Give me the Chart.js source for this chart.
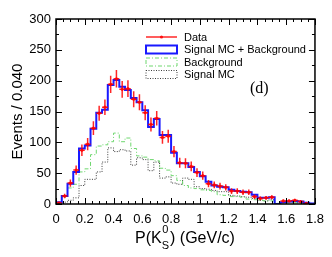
<!DOCTYPE html>
<html lang="en">
<head>
  <meta charset="UTF-8">
  <title>P(K0S) distribution</title>
  <script src="https://cdn.jsdelivr.net/npm/chart.js"></script>
  <style>
    body { margin: 0; background: #fff; }
    #wrap { width: 332px; height: 257px; }
  </style>
</head>
<body>
<div id="wrap"><canvas id="plot" width="332" height="257"></canvas></div>
<script>
// bin width 0.040 GeV/c, 45 bins from 0 to 1.8
const binWidth = 0.04;
const nBins = 45;
const dataCounts = [2, 13, 34, 55, 87, 97, 123, 147, 157, 194, 203, 186, 187, 170, 165, 148, 129, 139, 108, 110,
  85, 67, 66, 61, 51, 46, 33, 31, 29, 27, 21, 21, 19, 19, 12, 9, 10, 11, 0, 5, 5, 6, 4, 1, 0];
const totalMC = [3, 13, 33, 52, 90, 95, 122, 148, 153, 193, 201, 190, 185, 172, 165, 152, 125, 138, 112, 112,
  83, 66, 66, 60, 52, 45, 36, 30, 28, 27, 23, 21, 20, 19, 15, 10, 10, 11, 0, 3, 4, 5, 4, 2, 1];
const background = [1, 11, 26, 32, 52, 57, 80, 94, 96, 101, 115, 101, 107, 90, 78, 76, 72, 70, 58, 55,
  46, 38, 30, 26, 25, 23, 22, 20, 15, 14, 12, 12, 11, 8, 7, 6, 5, 5, 1, 2, 2, 2, 1, 1, 0];
const signalMC = [1, 3, 6, 10, 30, 40, 40, 52, 68, 91, 85, 88, 86, 63, 75, 72, 54, 68, 42, 44,
  34, 32, 42, 40, 28, 25, 24, 22, 20, 20, 14, 13, 12, 11, 9, 6, 5, 7, 0, 2, 3, 3, 3, 1, 1];
const seriesLabels = ["Data", "Signal MC + Background", "Background", "Signal MC"];
const xMin = 0, xMax = 1.8, yMin = 0, yMax = 300;

function stepPoints(vals) {
  const pts = vals.map((v, i) => ({ x: +(i * binWidth).toFixed(3), y: v }));
  pts.push({ x: xMax, y: vals[vals.length - 1] });
  return pts;
}

const dataPoints = dataCounts.map((v, i) => ({ x: +((i + 0.5) * binWidth).toFixed(3), y: v }))
  .filter(p => p.y > 0);

const RED = "rgba(255,0,0,0.85)";
const BLUE = "rgb(25,25,255)";
const GREEN = "rgb(110,215,110)";
const GREY = "rgb(60,60,60)";
const SANS = "'Liberation Sans', Arial, sans-serif";

const frameAndExtras = {
  id: "frameAndExtras",
  afterDatasetsDraw(chart) {
    // error bars for data
    const ctx = chart.ctx, xs = chart.scales.x, ys = chart.scales.y;
    ctx.save();
    ctx.strokeStyle = RED;
    ctx.lineWidth = 1.5;
    dataCounts.forEach((n, i) => {
      if (n <= 0) return;
      const err = Math.sqrt(n);
      const xc = xs.getPixelForValue((i + 0.5) * binWidth);
      const yc = ys.getPixelForValue(n);
      ctx.beginPath();
      ctx.moveTo(xs.getPixelForValue(i * binWidth), yc);
      ctx.lineTo(xs.getPixelForValue((i + 1) * binWidth), yc);
      ctx.moveTo(xc, ys.getPixelForValue(n - err));
      ctx.lineTo(xc, ys.getPixelForValue(n + err));
      ctx.stroke();
    });
    ctx.restore();
  },
  afterDraw(chart) {
    const ctx = chart.ctx, a = chart.chartArea;
    const xs = chart.scales.x, ys = chart.scales.y;
    ctx.save();
    // frame
    ctx.strokeStyle = "#000";
    ctx.lineWidth = 1.5;
    ctx.strokeRect(a.left, a.top, a.right - a.left, a.bottom - a.top);
    // inward ticks on all four sides
    ctx.lineWidth = 1;
    ctx.beginPath();
    for (let k = 0; k <= 36; k++) {
      const v = k * 0.05;
      const px = Math.round(xs.getPixelForValue(v)) + 0.5;
      const len = k % 4 === 0 ? 6 : 3;
      ctx.moveTo(px, a.bottom); ctx.lineTo(px, a.bottom - len);
      ctx.moveTo(px, a.top); ctx.lineTo(px, a.top + len);
    }
    for (let k = 0; k <= 12; k++) {
      const v = k * 25;
      const py = Math.round(ys.getPixelForValue(v)) + 0.5;
      const len = k % 2 === 0 ? 6 : 3;
      ctx.moveTo(a.left, py); ctx.lineTo(a.left + len, py);
      ctx.moveTo(a.right, py); ctx.lineTo(a.right - len, py);
    }
    ctx.stroke();

    // legend
    const lx0 = 146, lx1 = 177, tx = 184;
    const rows = [37, 49.5, 62, 74.5];
    ctx.font = "11px " + SANS;
    ctx.fillStyle = "#000";
    ctx.textBaseline = "middle";
    ctx.textAlign = "left";
    seriesLabels.forEach((lab, i) => {
      const y = rows[i];
      if (i === 0) {
        ctx.strokeStyle = RED; ctx.lineWidth = 1.5; ctx.setLineDash([]);
        ctx.beginPath(); ctx.moveTo(lx0, y); ctx.lineTo(lx1, y); ctx.stroke();
        ctx.fillStyle = RED;
        ctx.beginPath(); ctx.arc((lx0 + lx1) / 2, y, 1.6, 0, Math.PI * 2); ctx.fill();
      } else {
        const ds = chart.data.datasets[i];
        ctx.strokeStyle = ds.borderColor;
        ctx.lineWidth = ds.borderWidth;
        ctx.setLineDash(ds.borderDash || []);
        ctx.strokeRect(lx0, y - 4, lx1 - lx0, 8);
      }
      ctx.setLineDash([]);
      ctx.fillStyle = "#000";
      ctx.fillText(lab, tx, y + 0.5);
    });

    // panel label
    ctx.font = "16px 'Liberation Serif', 'Times New Roman', serif";
    ctx.fillText("(d)", 250, 89);

    // x-axis title with sub/superscript
    const big = "16px " + SANS, small = "11px " + SANS;
    ctx.font = big;
    const p1 = "P(K", p2 = ") (GeV/c)";
    const w1 = ctx.measureText(p1).width, w3 = ctx.measureText(p2).width;
    ctx.font = small;
    const w2 = Math.max(ctx.measureText("0").width, ctx.measureText("S").width) + 1;
    const total = w1 + w2 + w3;
    let x = 185 - total / 2;
    const base = 243;
    ctx.textBaseline = "alphabetic";
    ctx.font = big; ctx.fillText(p1, x, base); x += w1;
    ctx.font = small; ctx.fillText("0", x + 0.5, base - 10); ctx.fillText("S", x, base + 6); x += w2;
    ctx.font = big; ctx.fillText(p2, x, base);
    ctx.restore();
  }
};

new Chart(document.getElementById("plot"), {
  type: "scatter",
  data: {
    datasets: [
      { label: seriesLabels[0], data: dataPoints, showLine: false, pointRadius: 1.6,
        pointBackgroundColor: RED, pointBorderWidth: 0, order: 0 },
      { label: seriesLabels[1], data: stepPoints(totalMC), showLine: true, stepped: true, pointRadius: 0,
        borderColor: BLUE, borderWidth: 2, order: 1 },
      { label: seriesLabels[2], data: stepPoints(background), showLine: true, stepped: true, pointRadius: 0,
        borderColor: GREEN, borderWidth: 1, borderDash: [4, 2, 1, 2], order: 2 },
      { label: seriesLabels[3], data: stepPoints(signalMC), showLine: true, stepped: true, pointRadius: 0,
        borderColor: GREY, borderWidth: 1, borderDash: [1, 1.5], order: 3 }
    ]
  },
  options: {
    responsive: false,
    animation: false,
    devicePixelRatio: 1,
    layout: { padding: { top: 19, right: 17, left: 0, bottom: 0 } },
    plugins: { legend: { display: false }, tooltip: { enabled: false } },
    scales: {
      x: {
        type: "linear", min: xMin, max: xMax,
        grid: { display: false, drawTicks: false },
        border: { display: false },
        ticks: { stepSize: 0.2, color: "#000", font: { size: 13, family: SANS }, padding: 8,
          maxRotation: 0, callback: v => String(+v.toFixed(1)) },
        afterFit: s => { s.height = 53; }
      },
      y: {
        type: "linear", min: yMin, max: yMax,
        grid: { display: false, drawTicks: false },
        border: { display: false },
        ticks: { stepSize: 50, color: "#000", font: { size: 13, family: SANS }, padding: 5 },
        title: { display: true, text: "Events / 0.040", color: "#000",
          font: { size: 15, family: SANS }, padding: { top: 9, bottom: 0 } },
        afterFit: s => { s.width = 56; }
      }
    }
  },
  plugins: [frameAndExtras]
});
</script>
</body>
</html>
